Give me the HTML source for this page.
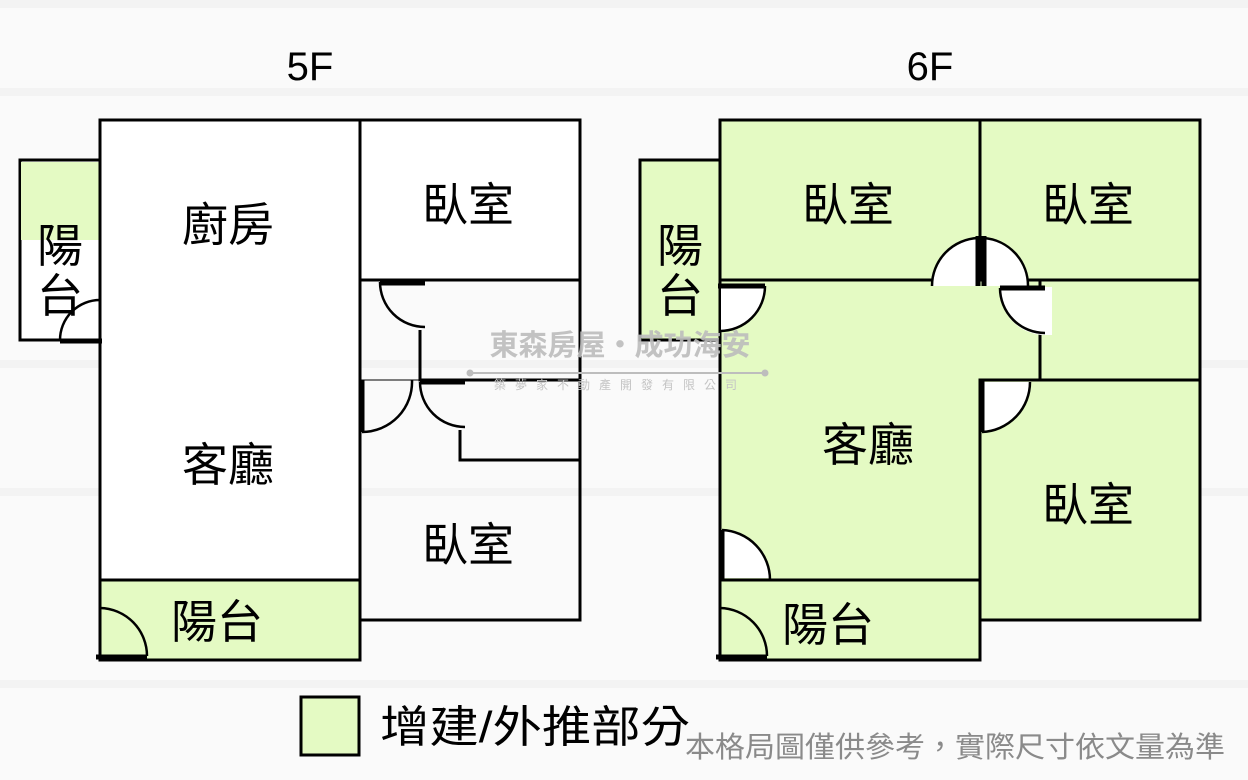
<!DOCTYPE html>
<html><head><meta charset="utf-8"><style>
html,body{margin:0;padding:0;background:#fafafa;}
svg{display:block;}
text{font-family:"Liberation Sans","Noto Sans CJK TC",sans-serif;}
</style></head><body>
<svg width="1248" height="780" viewBox="0 0 1248 780" xmlns="http://www.w3.org/2000/svg">
<rect width="1248" height="780" fill="#fafafa"/>
<g fill="#f3f3f3">
<rect x="0" y="0" width="1248" height="8"/>
<rect x="0" y="88" width="1248" height="8"/>
<rect x="0" y="360" width="1248" height="8"/>
<rect x="0" y="488" width="1248" height="8"/>
<rect x="0" y="680" width="1248" height="8"/>
</g>
<text x="310" y="80" font-size="40" text-anchor="middle" fill="#000">5F</text>
<text x="930" y="80" font-size="40" text-anchor="middle" fill="#000">6F</text>

<!-- 5F -->
<g stroke="#000" stroke-width="3" fill="none">
<rect x="20" y="160" width="80" height="180" fill="#fff"/>
<rect x="21" y="162" width="78" height="78" fill="#e4fac3" stroke="none"/>
<rect x="100" y="120" width="260" height="460" fill="#fff"/>
<rect x="360" y="120" width="220" height="160" fill="#fff"/>
<rect x="100" y="580" width="260" height="80" fill="#e4fac3"/>
<polyline points="420,330 420,380 580,380"/>
<polyline points="580,280 580,620 360,620"/>
<line x1="360" y1="380" x2="360" y2="620"/>
<polyline points="460,430 460,460 580,460"/>
<line x1="360" y1="380" x2="420" y2="380" stroke-width="1"/>
</g>
<!-- 5F doors -->
<g stroke="#000" fill="none" stroke-width="2.5">
<path d="M60,340 A40,40 0 0 1 100,300"/>
<line x1="60" y1="341" x2="102" y2="341" stroke-width="5"/>
<path d="M380,282 A45,45 0 0 0 425,327"/>
<line x1="380" y1="283" x2="425" y2="283" stroke-width="5"/>
<path d="M362,432 A50,50 0 0 0 412,380"/>
<line x1="362" y1="380" x2="362" y2="432" stroke-width="5"/>
<path d="M420,382 A45,45 0 0 0 465,427"/>
<line x1="420" y1="382" x2="465" y2="382" stroke-width="5"/>
<path d="M100,608 A48,48 0 0 1 147,656"/>
<line x1="96" y1="657" x2="147" y2="657" stroke-width="5"/>
</g>
<g font-size="46" fill="#000" text-anchor="middle">
<text x="228" y="241">廚房</text>
<text x="468" y="221">臥室</text>
<text x="228" y="481">客廳</text>
<text x="468" y="561">臥室</text>
<text x="217" y="638">陽台</text>
<text x="60" y="262">陽</text>
<text x="60" y="312">台</text>
</g>

<!-- 6F -->
<g stroke="#000" stroke-width="3" fill="#e4fac3">
<rect x="640" y="160" width="80" height="180"/>
<rect x="720" y="120" width="260" height="160"/>
<rect x="980" y="120" width="220" height="160"/>
<polygon points="720,280 1200,280 1200,380 980,380 980,580 720,580"/>
<rect x="980" y="380" width="220" height="240"/>
<rect x="720" y="580" width="260" height="80"/>
<line x1="1040" y1="280" x2="1040" y2="380"/>
</g>
<g fill="#fff" stroke="none">
<path d="M721,286 L765,286 A45,45 0 0 1 721,331 Z"/>
<path d="M932,286 A48,48 0 0 1 980,238 L980,286 Z"/>
<path d="M982,238 A48,48 0 0 1 1028,286 L982,286 Z"/>
<path d="M1000,287 L1052,287 L1052,335 L1045,335 A45,45 0 0 1 1000,287 Z"/>
<path d="M982,382 L1030,382 A48,48 0 0 1 982,432 Z"/>
<path d="M722,530 A50,50 0 0 1 770,578 L722,578 Z"/>
</g>
<g stroke="#000" fill="none" stroke-width="2.5">
<path d="M765,286 A45,45 0 0 1 720,331"/>
<line x1="718" y1="286" x2="765" y2="286" stroke-width="5"/>
<path d="M932,286 A48,48 0 0 1 978,238"/>
<path d="M984,238 A48,48 0 0 1 1028,286"/>
<line x1="978" y1="236" x2="978" y2="286" stroke-width="5"/>
<line x1="984" y1="236" x2="984" y2="286" stroke-width="5"/>
<path d="M1000,288 A45,45 0 0 0 1045,333"/>
<line x1="1000" y1="288" x2="1045" y2="288" stroke-width="5"/>
<path d="M982,432 A50,50 0 0 0 1030,382"/>
<line x1="982" y1="380" x2="982" y2="432" stroke-width="5"/>
<path d="M722,530 A50,50 0 0 1 770,580"/>
<line x1="722" y1="530" x2="722" y2="580" stroke-width="5"/>
<path d="M720,608 A48,48 0 0 1 767,656"/>
<line x1="716" y1="657" x2="767" y2="657" stroke-width="5"/>
</g>
<g font-size="46" fill="#000" text-anchor="middle">
<text x="848" y="221">臥室</text>
<text x="1088" y="221">臥室</text>
<text x="868" y="461">客廳</text>
<text x="1088" y="521">臥室</text>
<text x="828" y="641">陽台</text>
<text x="680" y="262">陽</text>
<text x="680" y="312">台</text>
</g>

<!-- watermark -->
<text x="620" y="355" font-size="29" font-weight="bold" fill="#bdbdbd" text-anchor="middle" opacity="0.9">東森房屋・成功海安</text>
<line x1="470" y1="373" x2="765" y2="373" stroke="#bdbdbd" stroke-width="2"/>
<circle cx="470" cy="373" r="3.5" fill="#bdbdbd"/><circle cx="765" cy="373" r="3.5" fill="#bdbdbd"/>
<text x="620" y="389" font-size="12" fill="#c4c4c4" text-anchor="middle" letter-spacing="9">築夢家不動產開發有限公司</text>

<!-- legend -->
<rect x="301" y="697" width="58" height="58" fill="#e4fac3" stroke="#000" stroke-width="3"/>
<text x="380" y="742" font-size="44" fill="#000" textLength="310" lengthAdjust="spacingAndGlyphs">增建/外推部分</text>
<text x="685" y="757" font-size="29" fill="#8a8a8a" textLength="540" lengthAdjust="spacingAndGlyphs">本格局圖僅供參考，實際尺寸依文量為準</text>
</svg>
</body></html>
